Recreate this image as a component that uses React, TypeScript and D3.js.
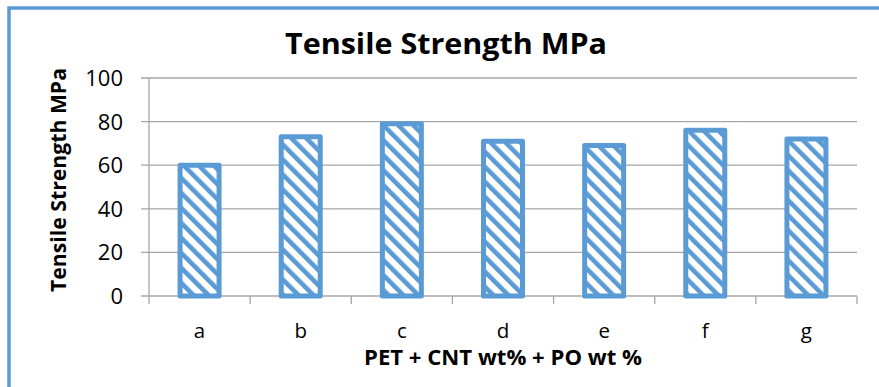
import React from "react";
import * as d3 from "d3";

const categories = ["a", "b", "c", "d", "e", "f", "g"];
const strength = [60, 73, 79, 71, 69, 76, 72];
const yTicks = [0, 20, 40, 60, 80, 100];

const W = 879;
const H = 387;
const BLUE = "#5B9BD5";
const GRID = "#A6A6A6";
const FONT = "'Open Sans', Lato, sans-serif";

export default function App() {
  const plot = { left: 149, right: 857, top: 78, bottom: 296 };
  const x = d3
    .scaleBand<string>()
    .domain(categories)
    .range([plot.left, plot.right])
    .padding(0);
  const y = d3.scaleLinear().domain([0, 100]).range([plot.bottom, plot.top]);
  const barW = 39;
  const boundaries = d3.range(categories.length + 1).map((i) => plot.left + i * x.bandwidth());

  return (
    <svg
      width={W}
      height={H}
      style={{ position: "absolute", left: 0, top: 0, background: "#fff" }}
    >
      <defs>
        <pattern
          id="hatch"
          patternUnits="userSpaceOnUse"
          width={10.6}
          height={10.6}
          patternTransform="rotate(-45)"
        >
          <rect width={10.6} height={10.6} fill="#fff" />
          <rect x={0} y={0} width={4.6} height={10.6} fill={BLUE} />
        </pattern>
      </defs>

      {/* chart frame */}
      <rect x={9} y={8} width={W + 20} height={H + 20} fill="none" stroke={BLUE} strokeWidth={3.5} />

      {/* title */}
      <text
        x={446}
        y={53.5}
        textAnchor="middle"
        fontFamily={FONT}
        fontWeight="bold"
        fontSize={28}
        textLength={322}
        lengthAdjust="spacingAndGlyphs"
        fill="#000"
      >
        Tensile Strength MPa
      </text>

      {/* horizontal gridlines with left tick extensions */}
      {yTicks.map((t) => (
        <line
          key={"g" + t}
          x1={plot.left - 8}
          x2={plot.right}
          y1={y(t)}
          y2={y(t)}
          stroke={GRID}
          strokeWidth={1.3}
        />
      ))}

      {/* y axis line */}
      <line x1={plot.left} x2={plot.left} y1={plot.top} y2={plot.bottom} stroke={GRID} strokeWidth={1.3} />

      {/* category ticks */}
      {boundaries.map((bx, i) => (
        <line key={"t" + i} x1={bx} x2={bx} y1={plot.bottom} y2={plot.bottom + 8} stroke={GRID} strokeWidth={1.3} />
      ))}

      {/* y tick labels */}
      {yTicks.map((t) => (
        <text
          key={"l" + t}
          x={123}
          y={y(t)}
          dy="0.36em"
          textAnchor="end"
          fontFamily={FONT}
          fontSize={22}
          fill="#000"
        >
          {t}
        </text>
      ))}

      {/* y axis title */}
      <text
        transform={`translate(66, 180) rotate(-90)`}
        textAnchor="middle"
        fontFamily={FONT}
        fontWeight="bold"
        fontSize={20.5}
        textLength={224}
        lengthAdjust="spacingAndGlyphs"
        fill="#000"
      >
        Tensile Strength MPa
      </text>

      {/* bars */}
      {categories.map((c, i) => {
        const cx = (x(c) as number) + x.bandwidth() / 2;
        return (
          <rect
            key={"b" + c}
            x={cx - barW / 2}
            y={y(strength[i])}
            width={barW}
            height={plot.bottom - y(strength[i])}
            fill="url(#hatch)"
            stroke={BLUE}
            strokeWidth={5}
            strokeLinejoin="round"
          />
        );
      })}

      {/* category labels */}
      {categories.map((c) => (
        <text
          key={"c" + c}
          x={(x(c) as number) + x.bandwidth() / 2}
          y={338}
          textAnchor="middle"
          fontFamily={FONT}
          fontSize={20.5}
          fill="#000"
        >
          {c}
        </text>
      ))}

      {/* x axis title */}
      <text
        x={(plot.left + plot.right) / 2}
        y={365}
        textAnchor="middle"
        fontFamily={FONT}
        fontWeight="bold"
        fontSize={20.5}
        textLength={278}
        lengthAdjust="spacingAndGlyphs"
        fill="#000"
      >
        PET + CNT wt% + PO wt %
      </text>
    </svg>
  );
}
